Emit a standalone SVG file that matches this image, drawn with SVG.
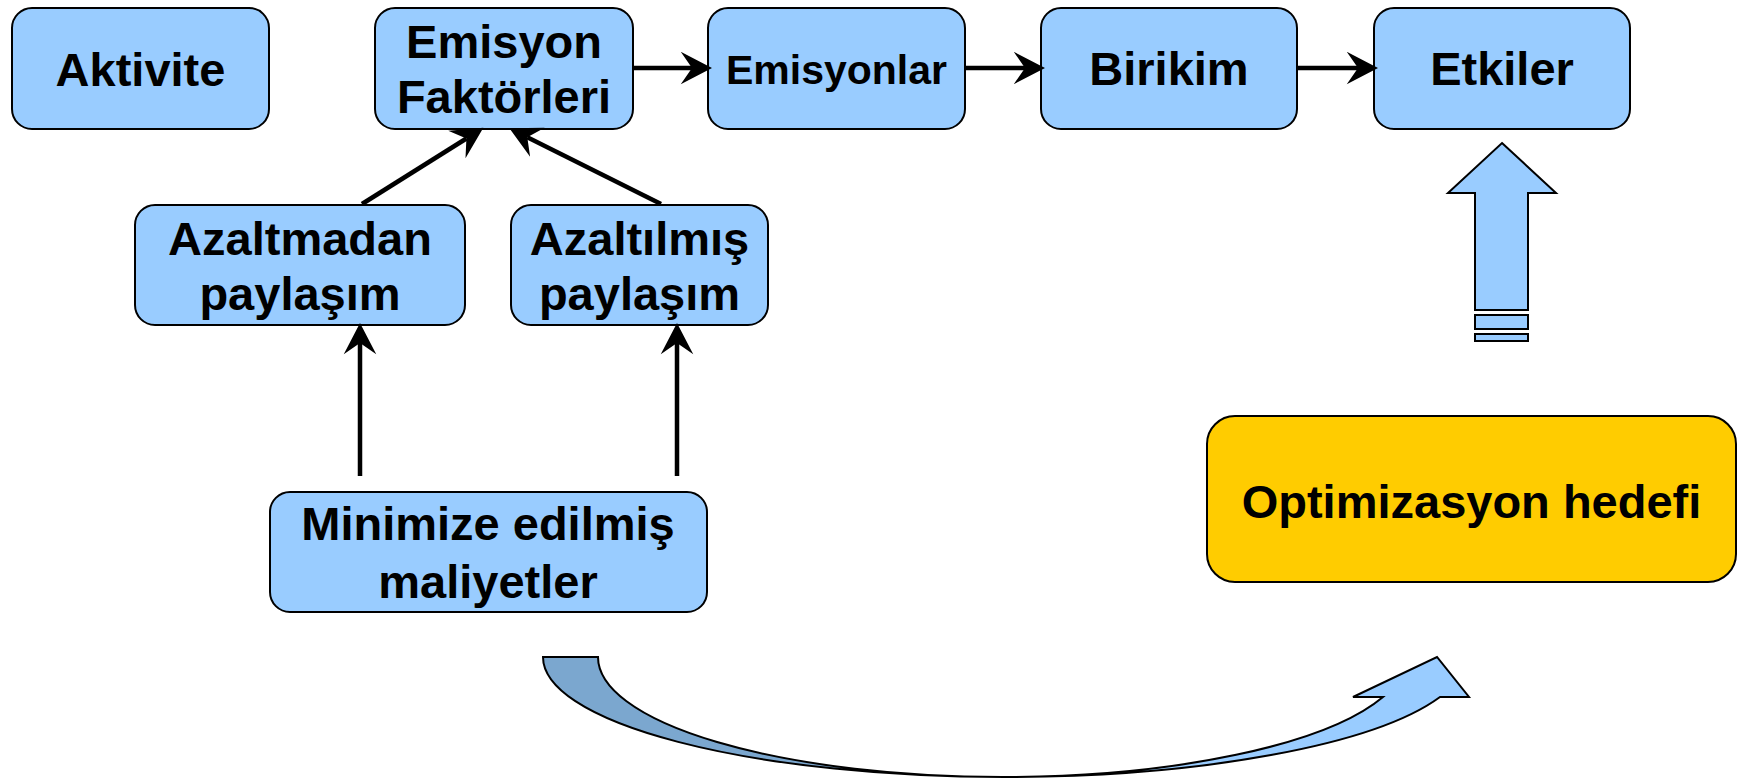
<svg xmlns="http://www.w3.org/2000/svg" width="1747" height="779" viewBox="0 0 1747 779">
<style>
.box{fill:#99CCFF;stroke:#000;stroke-width:2}
.opt{fill:#FFCC00;stroke:#000;stroke-width:2}
.t{font-family:"Liberation Sans",Arial,sans-serif;font-weight:bold;font-size:47px;fill:#000;text-anchor:middle}
.c{stroke:#000;stroke-width:4.5;fill:none;marker-end:url(#ah)}
.shape{stroke:#000;stroke-width:2;stroke-linejoin:miter}
</style>
<defs>
<marker id="ah" markerUnits="userSpaceOnUse" orient="auto" refX="0" refY="0" markerWidth="40" markerHeight="40" viewBox="-12 -16 32 32" overflow="visible">
<path d="M16,0 L-9,-13 L0,0 L-9,13 Z" fill="#000"/>
</marker>
</defs>
<rect width="1747" height="779" fill="#fff"/>

<g id="aktivite"><rect class="box" x="12" y="8" width="257" height="121" rx="20"/><text class="t" x="140.5" y="86">Aktivite</text></g>
<g id="emisyon-faktorleri"><rect class="box" x="375" y="8" width="258" height="121" rx="20"/><text class="t" x="504" y="58">Emisyon</text><text class="t" x="504" y="113">Faktörleri</text></g>
<g id="emisyonlar"><rect class="box" x="708" y="8" width="257" height="121" rx="20"/><text class="t" x="836.5" y="84" style="font-size:41px">Emisyonlar</text></g>
<g id="birikim"><rect class="box" x="1041" y="8" width="256" height="121" rx="20"/><text class="t" x="1169" y="85">Birikim</text></g>
<g id="etkiler"><rect class="box" x="1374" y="8" width="256" height="121" rx="20"/><text class="t" x="1502" y="85">Etkiler</text></g>
<g id="azaltmadan"><rect class="box" x="135" y="205" width="330" height="120" rx="20"/><text class="t" x="300" y="255">Azaltmadan</text><text class="t" x="300" y="310">paylaşım</text></g>
<g id="azaltilmis"><rect class="box" x="511" y="205" width="257" height="120" rx="20"/><text class="t" x="639.5" y="255">Azaltılmış</text><text class="t" x="639.5" y="310">paylaşım</text></g>
<g id="minimize"><rect class="box" x="270" y="492" width="437" height="120" rx="20"/><text class="t" x="488" y="540">Minimize edilmiş</text><text class="t" x="488" y="598">maliyetler</text></g>
<g id="optimizasyon"><rect class="opt" x="1207" y="416" width="529" height="166" rx="28"/><text class="t" x="1471.5" y="518">Optimizasyon hedefi</text></g>

<g id="connectors">
<line class="c" x1="633" y1="68" x2="692" y2="68"/>
<line class="c" x1="965" y1="68" x2="1025" y2="68"/>
<line class="c" x1="1297" y1="68" x2="1358" y2="68"/>
<line class="c" x1="362" y1="204" x2="466.4" y2="138.5"/>
<line class="c" x1="661" y1="204" x2="527.3" y2="137.2"/>
<line class="c" x1="360" y1="476" x2="360" y2="343"/>
<line class="c" x1="677" y1="476" x2="677" y2="343"/>
</g>

<g id="up-arrow">
<path class="shape" fill="#99CCFF" d="M1502,143 L1556,193 L1528,193 L1528,310 L1475,310 L1475,193 L1448,193 Z"/>
<rect class="shape" fill="#99CCFF" x="1475" y="315" width="53" height="14"/>
<rect class="shape" fill="#99CCFF" x="1475" y="334" width="53" height="7"/>
</g>

<g id="curved-arrow">
<path class="shape" fill="#7BA7CF" d="M543,657 A461,120 0 0 0 1004,777 A404,120 0 0 1 598,657 Z"/>
<path class="shape" fill="#99CCFF" d="M1004,777 A461,120 0 0 0 1440,697 L1469,697 L1437,657 L1353,697 L1383,697 A404,120 0 0 1 1004,777 Z"/>
</g>
</svg>
